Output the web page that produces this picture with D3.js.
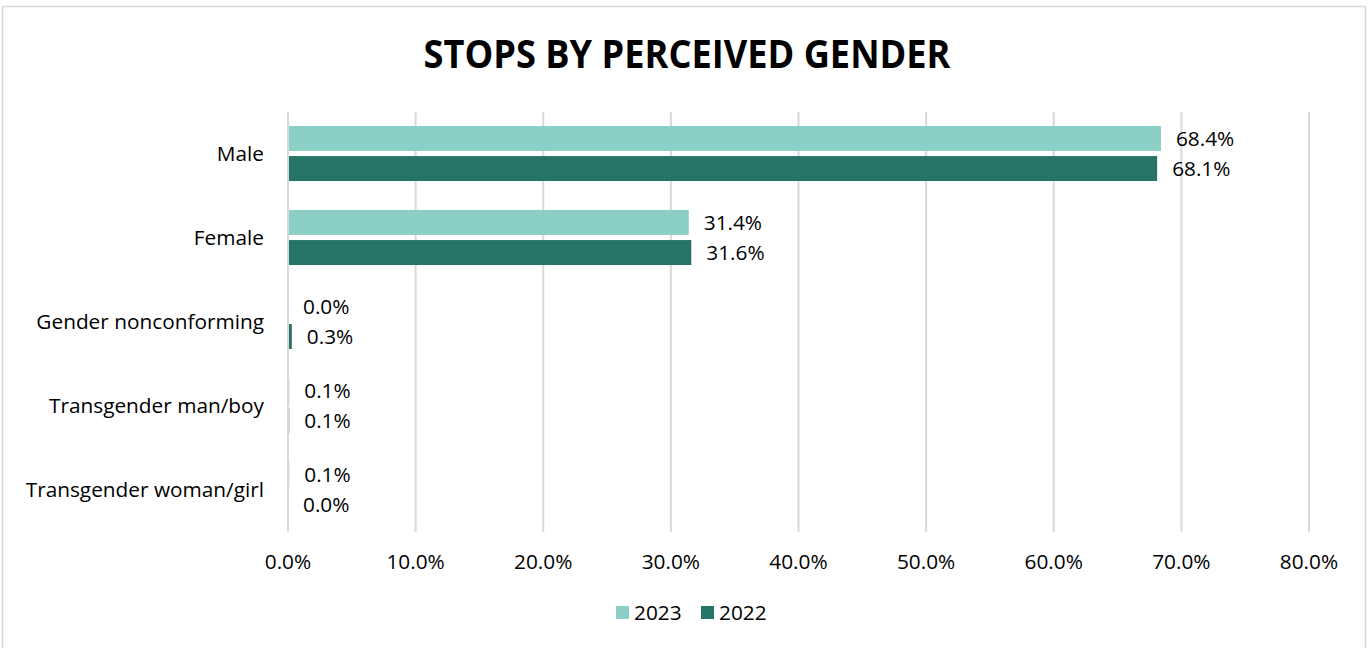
<!DOCTYPE html>
<html>
<head>
<meta charset="utf-8">
<script src="https://cdn.jsdelivr.net/npm/d3@7"></script>
<style>
  body { margin: 0; background: #fff; }
  svg { display: block; font-family: "Open Sans", sans-serif; }
</style>
</head>
<body>
<svg id="chart" width="1369" height="648"></svg>
<script>
const categories = ["Male", "Female", "Gender nonconforming", "Transgender man/boy", "Transgender woman/girl"];
const years = ["2023", "2022"];
const values2023 = [68.4, 31.4, 0.0, 0.1, 0.1];
const values2022 = [68.1, 31.6, 0.3, 0.1, 0.0];
const xTicks = [0, 10, 20, 30, 40, 50, 60, 70, 80];
const colors = { "2023": "#8ccfc6", "2022": "#267367" };

const svg = d3.select("#chart");

// outer frame
svg.append("rect")
    .attr("x", 2.5).attr("y", 6.5)
    .attr("width", 1363).attr("height", 650)
    .attr("fill", "none")
    .attr("stroke", "#d9d9d9")
    .attr("stroke-width", 1.5);

// title
svg.append("text")
    .attr("x", 687).attr("y", 68)
    .attr("text-anchor", "middle")
    .attr("font-size", 40)
    .attr("font-weight", "bold")
    .attr("textLength", 527)
    .attr("lengthAdjust", "spacingAndGlyphs")
    .attr("fill", "#000")
    .text("STOPS BY PERCEIVED GENDER");

const x = d3.scaleLinear().domain([0, 80]).range([288, 1309]);
const y = d3.scaleBand().domain(categories).range([111.5, 531.5])
    .paddingInner(0.345).paddingOuter(0.1725);
const ySub = d3.scaleBand().domain(years).range([0, y.bandwidth()]).paddingInner(0.17);

// gridlines
svg.append("g")
    .selectAll("line")
    .data(xTicks)
    .join("line")
    .attr("x1", d => x(d)).attr("x2", d => x(d))
    .attr("y1", 112).attr("y2", 532)
    .attr("stroke", "#d9d9d9")
    .attr("stroke-width", 2);

// x tick labels
svg.append("g")
    .selectAll("text")
    .data(xTicks)
    .join("text")
    .attr("x", d => x(d))
    .attr("y", 569)
    .attr("text-anchor", "middle")
    .attr("font-size", 20.8)
    .attr("fill", "#000")
    .text(d => d.toFixed(1) + "%");

// category labels
svg.append("g")
    .selectAll("text")
    .data(categories)
    .join("text")
    .attr("x", 264)
    .attr("y", d => y(d) + y.bandwidth() / 2)
    .attr("dy", "0.35em")
    .attr("text-anchor", "end")
    .attr("font-size", 20.8)
    .attr("fill", "#000")
    .text(d => d);

const rows = [];
categories.forEach((c, i) => {
    rows.push({ cat: c, year: "2023", value: values2023[i] });
    rows.push({ cat: c, year: "2022", value: values2022[i] });
});

// bars
svg.append("g")
    .selectAll("rect")
    .data(rows)
    .join("rect")
    .attr("x", x(0) + 1)
    .attr("y", d => y(d.cat) + ySub(d.year))
    .attr("width", d => Math.max(0, x(d.value) - x(0) - 1))
    .attr("height", ySub.bandwidth())
    .attr("fill", d => colors[d.year]);

// value labels
svg.append("g")
    .selectAll("text")
    .data(rows)
    .join("text")
    .attr("x", d => x(d.value) + 15)
    .attr("y", d => y(d.cat) + ySub(d.year) + ySub.bandwidth() / 2)
    .attr("dy", "0.35em")
    .attr("font-size", 20.8)
    .attr("fill", "#000")
    .text(d => d.value.toFixed(1) + "%");

// legend
const legend = svg.append("g").attr("transform", "translate(616,606)");
const legendX = [0, 85];
years.forEach((yr, i) => {
    const g = legend.append("g").attr("transform", `translate(${legendX[i]},0)`);
    g.append("rect").attr("width", 13).attr("height", 13).attr("fill", colors[yr]);
    g.append("text")
        .attr("x", 18).attr("y", 7)
        .attr("dy", "0.35em")
        .attr("font-size", 20.8)
        .attr("fill", "#000")
        .text(yr);
});
</script>
</body>
</html>
